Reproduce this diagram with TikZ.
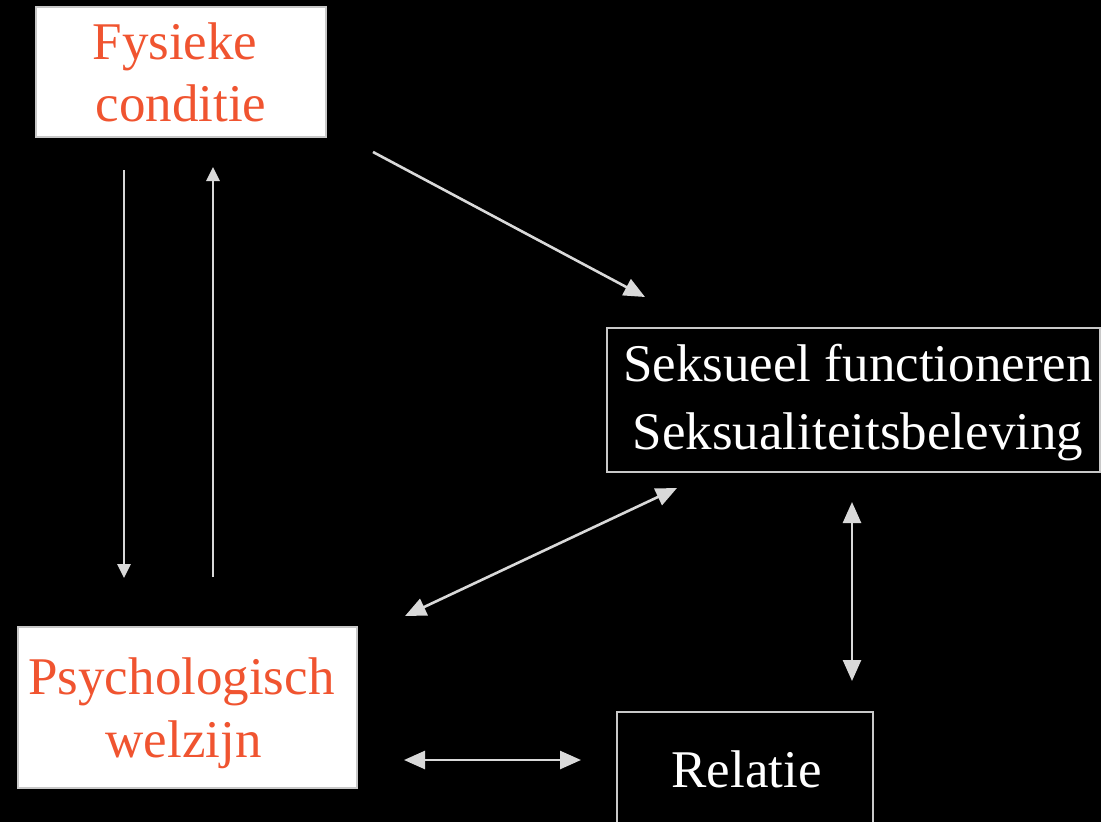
\documentclass[tikz,border=0pt]{standalone}
\usepackage{fontspec}
\setmainfont{Liberation Serif}
\usetikzlibrary{arrows.meta}
\definecolor{accent}{RGB}{240,84,48}
\definecolor{frame}{RGB}{200,200,200}
\definecolor{link}{RGB}{217,217,217}
\begin{document}
\begin{tikzpicture}[x=1pt,y=-1pt,
  box/.style={draw=frame,line width=2pt,rectangle,inner sep=0pt,align=center,
    text depth=0pt,font=\fontsize{53}{62}\selectfont},
  lightbox/.style={box,fill=white,text=accent},
  darkbox/.style={box,fill=black,text=white},
  link/.style={draw=link,line width=2.6pt},
  small/.style={link,-{Triangle[length=14pt,width=13pt]}},
  oneway/.style={link,-{Triangle[length=21pt,width=18pt]}},
  twoway/.style={link,{Triangle[length=21pt,width=18pt]}-{Triangle[length=21pt,width=18pt]}}]
\fill[black] (0,0) rectangle (1101,822);
\clip (0,0) rectangle (1101,822);

% factor boxes
\node[lightbox,minimum width=290pt,minimum height=130pt] (fys) at (181,72)
  {Fysieke\hspace*{12pt}\\conditie};
\node[lightbox,minimum width=339pt,minimum height=161pt,
  font=\fontsize{53}{63}\selectfont] (psy) at (187.5,707.5)
  {Psychologisch\hspace*{12pt}\\welzijn\hspace*{8pt}};
\node[darkbox,minimum width=493pt,minimum height=144pt,text height=99pt,
  font=\fontsize{53}{68}\selectfont] (sex) at (853.5,400)
  {\hspace*{9pt}Seksueel functioneren\\\hspace*{9pt}Seksualiteitsbeleving};
\node[darkbox,minimum width=256pt,minimum height=114pt] (rel) at (745,769)
  {\hspace*{3pt}Relatie};

% arrow end points
\coordinate (fysDown) at (124,170);
\coordinate (psyTopL) at (124,578);
\coordinate (psyTopR) at (213,577);
\coordinate (fysUp) at (213,167);
\coordinate (fysCorner) at (373,152);
\coordinate (sexTopL) at (645,297);
\coordinate (psyCorner) at (405,616);
\coordinate (sexBotL) at (677,488);
\coordinate (sexBot) at (852,502);
\coordinate (relTop) at (852,681);
\coordinate (psyRight) at (404,760);
\coordinate (relLeft) at (581,760);

% connectors
\draw[small] (fysDown) -- (psyTopL);
\draw[small] (psyTopR) -- (fysUp);
\draw[oneway] (fysCorner) -- (sexTopL);
\draw[twoway] (psyCorner) -- (sexBotL);
\draw[twoway] (sexBot) -- (relTop);
\draw[twoway] (psyRight) -- (relLeft);
\end{tikzpicture}
\end{document}
